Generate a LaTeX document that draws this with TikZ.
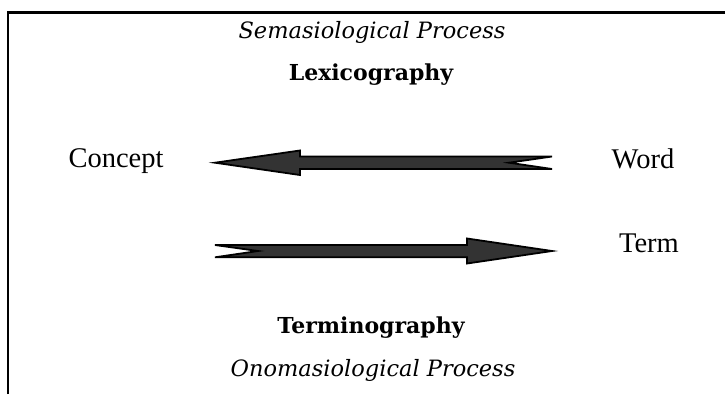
\documentclass[tikz,border=0pt]{standalone}
\usepackage{fontspec}
\setmainfont{Liberation Serif}
\newfontfamily\bookfont{DejaVu Serif}
\begin{document}
\begin{tikzpicture}[x=1pt, y=-1pt,
    lbl/.style={font=\fontsize{28.5}{32}\selectfont, inner sep=0pt, text depth=0pt},
    proc/.style={font=\bookfont\itshape\fontsize{22.5}{26}\selectfont, inner sep=0pt},
    disc/.style={font=\bookfont\bfseries\fontsize{22}{26}\selectfont, inner sep=0pt},
    blk/.style={draw=black, line width=1.8pt, fill=black!80, line join=miter}]
  \useasboundingbox (0,0) rectangle (725,394);
  % open frame: only the top and the left edge
  \draw[line width=2.6pt] (8,394) -- (8,12.5) -- (725,12.5);
  \node[proc] (sema) at (372,32) {Semasiological Process};
  \node[disc] (lexi) at (371,75) {Lexicography};
  \node[lbl] (concept) at (116,158.5) {Concept};
  \node[lbl] (word) at (643,158.5) {Word};
  \node[lbl] (term) at (649,243) {Term};
  \node[disc] (termi) at (371,328) {Terminography};
  \node[proc] (onom) at (373,370.5) {Onomasiological Process};
  % block arrows, notched tail
  \filldraw[blk] (215,162.7) -- (300,150.5) -- (300,156.5) -- (552,156.5)
    -- (509,162.7) -- (552,169) -- (300,169) -- (300,175) -- cycle;
  \filldraw[blk] (552,251) -- (467,238.5) -- (467,245) -- (215,245)
    -- (258,251) -- (215,257.3) -- (467,257.3) -- (467,263.5) -- cycle;
\end{tikzpicture}
\end{document}
